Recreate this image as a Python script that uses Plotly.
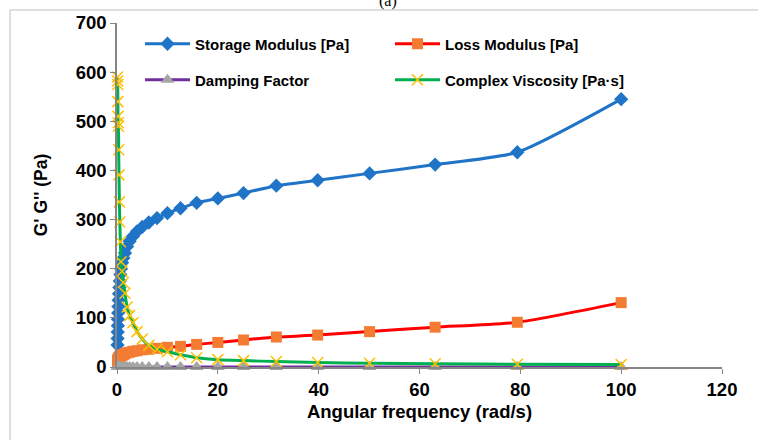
import plotly.graph_objects as go

# ---- data ----
freq = [0.1, 0.12, 0.14, 0.17, 0.2, 0.24, 0.28, 0.33, 0.4, 0.47, 0.56, 0.67, 0.8, 1.0, 1.26,
        1.58, 2.0, 2.51, 3.16, 3.98, 5.01, 6.31, 7.94, 10.0, 12.6, 15.8, 20.0, 25.1, 31.6,
        39.8, 50.1, 63.1, 79.4, 100.0]
storage = [45, 58, 71, 84, 97, 110, 123, 136, 149, 162, 175, 188, 200, 212, 222,
           232, 245, 256, 266, 276, 285, 294, 303, 313, 323, 334, 343, 354, 369,
           380, 394, 412, 437, 545]
loss = [11, 12, 13, 14, 15, 16, 17, 18, 19, 20, 21, 22, 23, 24, 25,
        27, 29, 30, 32, 33, 35, 36, 38, 40, 42, 46, 50, 55, 61,
        65, 72, 81, 91, 131]
damping = [0.27, 0.22, 0.20, 0.18, 0.16, 0.15, 0.14, 0.13, 0.12, 0.12, 0.11, 0.11, 0.11, 0.11, 0.11,
           0.11, 0.11, 0.11, 0.11, 0.12, 0.12, 0.12, 0.12, 0.12, 0.13, 0.13, 0.14, 0.15, 0.16,
           0.17, 0.18, 0.19, 0.20, 0.24]
viscosity = [590, 582, 575, 540, 510, 497, 490, 442, 391, 336, 295, 255, 214, 195, 172,
             150, 122, 105, 90, 72, 57, 44, 36, 31, 25, 19, 15, 13, 11,
             9, 7.5, 6.5, 5.5, 5]

x_ticks = [0, 20, 40, 60, 80, 100, 120]
y_ticks = [0, 100, 200, 300, 400, 500, 600, 700]

FONT = "Arial, Liberation Sans, sans-serif"

fig = go.Figure()
fig.add_trace(go.Scatter(
    x=freq, y=storage, name="Storage Modulus [Pa]", mode="lines+markers",
    line=dict(color="#1F74C8", width=3, shape="spline", smoothing=0.6),
    marker=dict(symbol="diamond", size=11, color="#1F74C8"),
    cliponaxis=False, legend="legend"))
fig.add_trace(go.Scatter(
    x=freq, y=loss, name="Loss Modulus [Pa]", mode="lines+markers",
    line=dict(color="#FF0000", width=3, shape="spline", smoothing=0.6),
    marker=dict(symbol="square", size=11, color="#F47C32"),
    cliponaxis=False, legend="legend"))
fig.add_trace(go.Scatter(
    x=freq, y=damping, name="Damping Factor", mode="lines+markers",
    line=dict(color="#7030A0", width=3, shape="spline", smoothing=0.6),
    marker=dict(symbol="triangle-up", size=12, color="#A5A5A5"),
    cliponaxis=False, legend="legend2"))
fig.add_trace(go.Scatter(
    x=freq, y=viscosity, name="Complex Viscosity [Pa·s]", mode="lines+markers",
    line=dict(color="#00B050", width=3, shape="spline", smoothing=0.6),
    marker=dict(symbol="x-thin", size=11, color="#FFC000",
                line=dict(color="#FFC000", width=1.5)),
    cliponaxis=False, legend="legend2"))

L, R, T, B = 117, 36, 23, 73
PW, PH = 758 - L - R, 440 - T - B


def px_x(px):
    return (px - L) / PW


def px_y(py):
    return (440 - B - py) / PH


legend_common = dict(
    orientation="h", xanchor="left", yanchor="middle",
    entrywidth=190, entrywidthmode="pixels", itemwidth=45,
    bgcolor="rgba(0,0,0,0)",
    font=dict(family=FONT, size=15, color="#000000", weight="bold"))

fig.update_layout(
    width=758, height=440,
    margin=dict(l=L, r=R, t=T, b=B, autoexpand=False),
    paper_bgcolor="white", plot_bgcolor="white",
    font=dict(family=FONT, color="#000000"),
    legend=dict(x=px_x(140), y=px_y(44), **legend_common),
    legend2=dict(x=px_x(140), y=px_y(80), **legend_common),
    xaxis=dict(
        range=[0, 120], tickvals=x_ticks, ticktext=[str(v) for v in x_ticks],
        showgrid=False, zeroline=False, showline=True, linecolor="#868686", linewidth=1.5,
        ticks="outside", ticklen=5, tickcolor="#868686",
        tickfont=dict(family=FONT, size=18.5, weight="bold"),
        title=dict(text="Angular frequency (rad/s)", standoff=6,
                   font=dict(family=FONT, size=18.5, weight="bold"))),
    yaxis=dict(
        range=[0, 700], tickvals=y_ticks, ticktext=[str(v) for v in y_ticks],
        showgrid=False, zeroline=False, showline=True, linecolor="#868686", linewidth=1.5,
        ticks="outside", ticklen=5, tickcolor="#868686",
        tickfont=dict(family=FONT, size=18.5, weight="bold"),
        title=dict(text="G' G'' (Pa)", standoff=24,
                   font=dict(family=FONT, size=17.5, weight="bold"))),
    shapes=[
        dict(type="line", xref="paper", yref="paper",
             x0=px_x(10), x1=px_x(10), y0=px_y(10), y1=px_y(445),
             line=dict(color="#BFBFBF", width=1)),
        dict(type="line", xref="paper", yref="paper",
             x0=px_x(10), x1=px_x(760), y0=px_y(10), y1=px_y(10),
             line=dict(color="#BFBFBF", width=1)),
    ],
    annotations=[
        dict(text="(a)", xref="paper", yref="paper", x=px_x(388), y=px_y(12),
             xanchor="center", yanchor="bottom", showarrow=False,
             font=dict(family="Liberation Serif, Times New Roman, serif", size=16, color="#000000")),
    ],
)

fig.write_html("out.html",
               config={"displayModeBar": False},
               post_script="document.body.style.margin='0';document.body.style.padding='0';"
                           "document.documentElement.style.overflow='hidden';")
